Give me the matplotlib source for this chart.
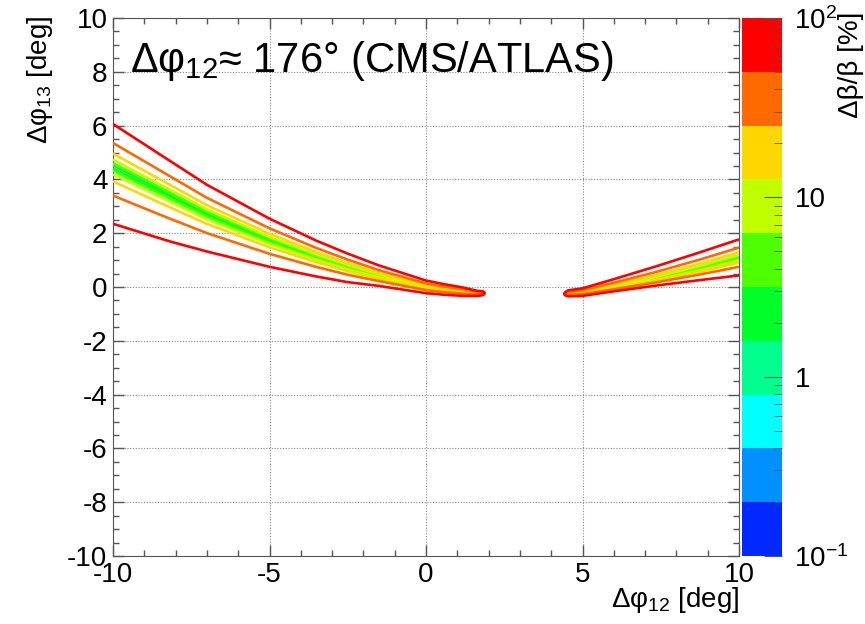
import numpy as np
import matplotlib.pyplot as plt
from matplotlib.ticker import FixedLocator, MultipleLocator

plt.rcParams['font.family'] = ['Liberation Sans', 'DejaVu Sans']
plt.rcParams['mathtext.fontset'] = 'custom'
plt.rcParams['mathtext.rm'] = 'Liberation Sans'
plt.rcParams['mathtext.it'] = 'Liberation Sans'
plt.rcParams['mathtext.bf'] = 'Liberation Sans:bold'
plt.rcParams['axes.unicode_minus'] = False

# valley of the resolution map: centre line, red (50%) contour edges and minimum along it
valley_x = [-10, -8.17, -7, -5, -3.5, -2.5, -1.5, 0, 0.6, 1.19, 1.62, 1.75, 1.89,
            3.1, 4.4, 4.55, 5, 6, 7.33, 8.7, 10]
valley_y = [4.45, 3.38, 2.69, 1.72, 1.10, 0.73, 0.40, 0.0, -0.10, -0.17, -0.23, -0.23, -0.23,
            -0.25, -0.26, -0.25, -0.2, -0.01, 0.29, 0.66, 1.07]
red_upper = [6.06, 4.68, 3.80, 2.54, 1.72, 1.24, 0.80, 0.24, 0.10, -0.02, -0.14, -0.15, -0.15,
             -0.17, -0.18, -0.12, -0.05, 0.29, 0.76, 1.27, 1.77]
red_lower = [2.35, 1.69, 1.32, 0.75, 0.39, 0.18, 0.04, -0.23, -0.29, -0.33, -0.33, -0.32, -0.31,
             -0.33, -0.34, -0.35, -0.33, -0.16, 0.05, 0.25, 0.43]
valley_min = [1.0, 1.0, 1.0, 1.0, 1.2, 1.3, 1.5, 2.5, 2.8, 3.0, 4.0, 13, 55,
              1000, 55, 12, 3.0, 2.0, 1.5, 1.3, 1.2]

# palette bands, 0.1% .. 100% in steps of 10^0.3
levels = 10 ** (-1 + 0.3 * np.arange(11))
levels[-1] = 100
band_colors = ['#0028ff', '#0090ff', '#00ffff', '#00ff8c', '#00ff2a',
               '#4dff00', '#bfff00', '#ffd700', '#ff6a00', '#ff0000']

# build the map on a grid
xg = np.linspace(-10, 10, 1201)
yg = np.linspace(-10, 10, 2001)
X, Y = np.meshgrid(xg, yg)
cen = np.interp(xg, valley_x, valley_y)
wu = np.interp(xg, valley_x, red_upper) - cen
wl = cen - np.interp(xg, valley_x, red_lower)
mn = np.interp(xg, valley_x, valley_min)
dy = Y - cen
ref = 10 ** 1.7
g = np.where(dy > 0, ref * (np.abs(dy) / wu) ** 1.2, ref * np.abs(dy) / wl)
F = np.sqrt(mn ** 2 + g ** 2)

fig = plt.figure(figsize=(8.65, 6.24), dpi=100)
ax = fig.add_axes([113 / 865, 1 - 556 / 624, 626 / 865, 538 / 624])

ax.contour(X, Y, F, levels=levels[:-1], colors=band_colors, linewidths=1.9, zorder=3)

ax.set_xlim(-10, 10)
ax.set_ylim(-10, 10)
ax.xaxis.set_major_locator(MultipleLocator(5))
ax.xaxis.set_minor_locator(MultipleLocator(1))
ax.yaxis.set_major_locator(MultipleLocator(2))
ax.yaxis.set_minor_locator(MultipleLocator(0.5))
ax.tick_params(which='both', direction='in', top=True, right=True,
               labelsize=20, color='#555555')
ax.tick_params(which='major', length=8, width=1)
ax.tick_params(which='minor', length=4, width=1)
ax.tick_params(axis='x', pad=4)
ax.tick_params(axis='y', pad=4)
for s in ax.spines.values():
    s.set_color('#555555')
ax.grid(True, which='major', color='#888888', linestyle=(0, (1, 1.5)), linewidth=0.8)

fig.text(130 / 865, 1 - 72 / 624, r'$\Delta\varphi_{12}$≈ 176° (CMS/ATLAS)',
         ha='left', va='baseline', fontsize=30)
fig.text(739 / 865, 1 - 607 / 624, r'$\Delta\varphi_{12}$ [deg]',
         ha='right', va='baseline', fontsize=20)
fig.text(40 / 865, 1 - 16 / 624, r'$\Delta\varphi_{13}$ [deg]',
         ha='center', va='top', rotation=90, fontsize=20)

# colour scale
cax = fig.add_axes([742 / 865, 1 - 556 / 624, 40 / 865, 538 / 624])
for i in range(10):
    cax.axhspan(levels[i], levels[i + 1], color=band_colors[i], lw=0)
cax.set_yscale('log')
cax.set_ylim(0.1, 100)
cax.set_xlim(0, 1)
cax.set_xticks([])
cax.yaxis.tick_right()
cax.yaxis.set_major_locator(FixedLocator([0.1, 1, 10, 100]))
cax.set_yticklabels([r'$10^{-1}$', '1', '10', r'$10^{2}$'])
minor = [k * d for d in (0.1, 1, 10) for k in range(2, 10)]
cax.yaxis.set_minor_locator(FixedLocator(minor))
cax.yaxis.set_minor_formatter(plt.NullFormatter())
cax.tick_params(which='both', direction='in', labelsize=20, color='#555555', pad=9)
cax.tick_params(which='major', length=13)
cax.tick_params(which='minor', length=6)
for s in cax.spines.values():
    s.set_visible(False)
fig.text(851 / 865, 1 - 12 / 624, 'Δβ/β [%]', ha='center', va='top', rotation=90, fontsize=20)

fig.savefig('out.png', dpi=100)
